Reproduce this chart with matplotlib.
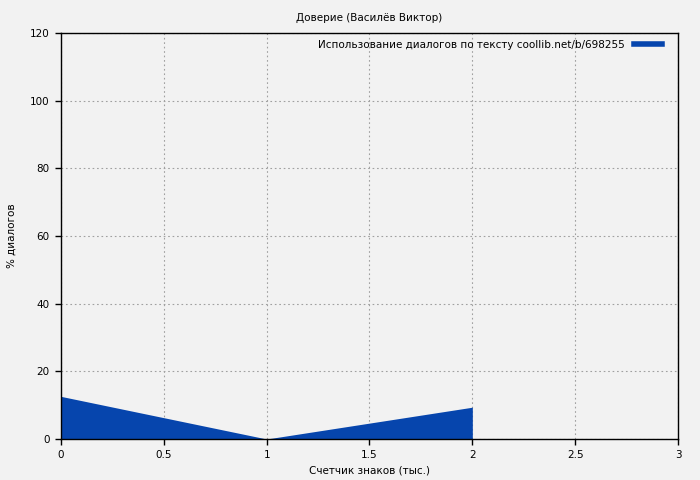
import matplotlib

matplotlib.use("Agg")
import matplotlib.pyplot as plt
from matplotlib.lines import Line2D

# Данные графика
tys_znakov = [0, 1, 2]
proc_dialogov = [12.6, 0.0, 9.4]

FON = "#f2f2f2"
SINIY = "#0645ad"
PODPIS = "Использование диалогов по тексту coollib.net/b/698255"

plt.rcParams["font.family"] = "DejaVu Sans"
plt.rcParams["font.size"] = 7.5

fig = plt.figure(figsize=(7, 4.8), dpi=100, facecolor=FON)
ax = fig.add_axes([0.0871, 0.0854, 0.8815, 0.8459], facecolor=FON)

ax.fill_between(tys_znakov, proc_dialogov, 0, color=SINIY, linewidth=0)

ax.set_xlim(0, 3)
ax.set_ylim(0, 120)
ax.set_xticks([0, 0.5, 1, 1.5, 2, 2.5, 3])
ax.set_xticklabels(["0", "0.5", "1", "1.5", "2", "2.5", "3"])
ax.set_yticks(range(0, 121, 20))
ax.grid(color="#a0a0a0", linestyle=(0, (1.5, 2.5)), linewidth=0.8)
ax.set_axisbelow(True)
ax.tick_params(direction="out", length=4, width=1, colors="black", pad=4)
for s in ax.spines.values():
    s.set_linewidth(1)

ax.set_title("Доверие (Василёв Виктор)", fontsize=7.5, pad=9)
ax.set_xlabel("Счетчик знаков (тыс.)", labelpad=4)
ax.set_ylabel("% диалогов", labelpad=10)

h = Line2D([0], [0], color=SINIY, linewidth=4)
ax.legend([h], [PODPIS], loc="upper right", bbox_to_anchor=(0.977, 0.989),
          frameon=False, markerfirst=False, handlelength=2.65,
          borderaxespad=0, handletextpad=0.9, borderpad=0.2)

fig.savefig("out.png", dpi=100, facecolor=FON)
